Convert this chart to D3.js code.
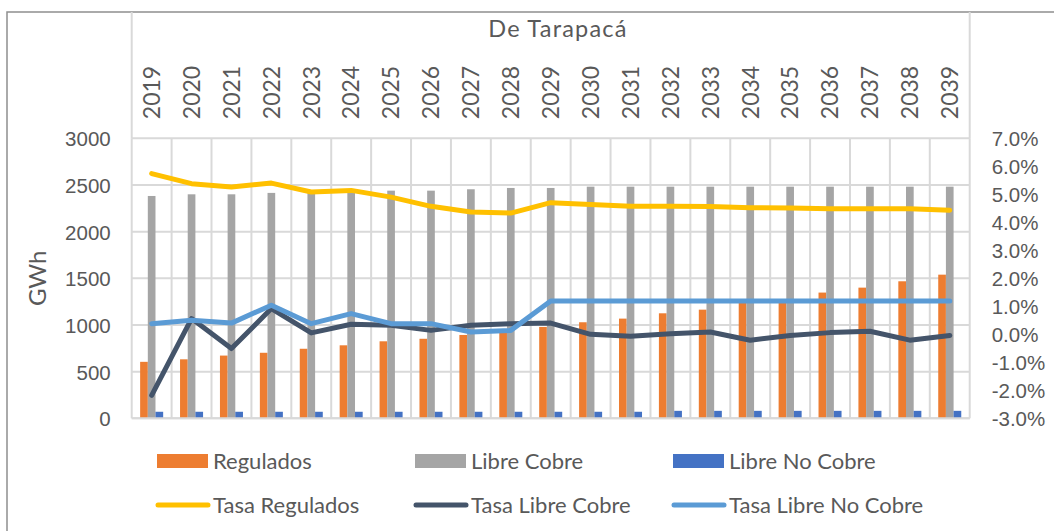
<!DOCTYPE html>
<html>
<head>
<meta charset="utf-8">
<script src="https://cdn.jsdelivr.net/npm/d3@7"></script>
<style>
	body { margin: 0; background: #fff; }
	svg { display: block; font-family: Lato, 'Open Sans', sans-serif; }
	.tick text, .lbl { fill: #595959; }
</style>
</head>
<body>
<div id="chart"></div>
<script>
// data ///////////////////////////////////////////////////////////////////
var years = ['2019', '2020', '2021', '2022', '2023', '2024', '2025', '2026', '2027', '2028', '2029',
	'2030', '2031', '2032', '2033', '2034', '2035', '2036', '2037', '2038', '2039'];
var regulados = [605, 632, 672, 702, 745, 782, 825, 852, 893, 921, 979,
	1029, 1068, 1125, 1164, 1240, 1252, 1347, 1400, 1468, 1539];
var libreCobre = [2382, 2400, 2400, 2415, 2420, 2428, 2439, 2439, 2454, 2468, 2468,
	2482, 2482, 2482, 2482, 2482, 2482, 2482, 2482, 2482, 2482];
var libreNoCobre = [70, 70, 70, 70, 70, 70, 70, 70, 70, 70, 70,
	70, 70, 80, 80, 80, 80, 80, 80, 80, 80];
// growth rates in %
var tasaRegulados = [5.74, 5.38, 5.26, 5.40, 5.08, 5.14, 4.90, 4.57, 4.37, 4.33, 4.70,
	4.64, 4.57, 4.57, 4.56, 4.52, 4.51, 4.48, 4.48, 4.48, 4.43];
var tasaLibreCobre = [-2.18, 0.56, -0.51, 0.92, 0.05, 0.36, 0.32, 0.14, 0.32, 0.38, 0.40,
	0.00, -0.07, 0.02, 0.08, -0.21, -0.04, 0.06, 0.11, -0.21, -0.04];
var tasaLibreNoCobre = [0.38, 0.50, 0.40, 1.04, 0.38, 0.74, 0.38, 0.38, 0.08, 0.14, 1.19,
	1.19, 1.19, 1.19, 1.19, 1.19, 1.19, 1.19, 1.19, 1.19, 1.19];
var leftTicks = [0, 500, 1000, 1500, 2000, 2500, 3000];
var rightTicks = [-3, -2, -1, 0, 1, 2, 3, 4, 5, 6, 7];
var groupTitle = 'De Tarapacá';

var barSeries = [
	{name: 'Regulados', values: regulados, color: '#ED7D31'},
	{name: 'Libre Cobre', values: libreCobre, color: '#A5A5A5'},
	{name: 'Libre No Cobre', values: libreNoCobre, color: '#4472C4'}
];
var lineSeries = [
	{name: 'Tasa Regulados', values: tasaRegulados, color: '#FFC000'},
	{name: 'Tasa Libre Cobre', values: tasaLibreCobre, color: '#44546A'},
	{name: 'Tasa Libre No Cobre', values: tasaLibreNoCobre, color: '#5B9BD5'}
];

// layout /////////////////////////////////////////////////////////////////
var W = 1054, H = 531;
var plot = {left: 131.7, right: 969.7, top: 138.3, bottom: 418.3};
var gridColor = '#d9d9d9';

var svg = d3.select('#chart').append('svg')
	.attr('width', W)
	.attr('height', H);

// outer frame
svg.append('rect')
	.attr('x', 7).attr('y', 12)
	.attr('width', W + 20).attr('height', H + 20)
	.attr('fill', 'none')
	.attr('stroke', '#8f8f8f')
	.attr('stroke-width', 1.5);

var x = d3.scaleBand()
	.domain(years)
	.range([plot.left, plot.right])
	.paddingInner(0).paddingOuter(0);
var xs = d3.scaleBand()
	.domain(barSeries.map(function(d) { return d.name; }))
	.range([0, x.bandwidth()])
	.paddingInner(0).paddingOuter(1.1);
var yL = d3.scaleLinear().domain([0, 3000]).range([plot.bottom, plot.top]);
var yR = d3.scaleLinear().domain([-3, 7]).range([plot.bottom, plot.top]);

// gridlines
var grid = svg.append('g').attr('class', 'grid');
grid.selectAll('.hgrid')
	.data(leftTicks)
	.enter().append('line')
	.attr('x1', plot.left).attr('x2', plot.right)
	.attr('y1', function(d) { return yL(d); })
	.attr('y2', function(d) { return yL(d); })
	.attr('stroke', gridColor)
	.attr('stroke-width', 2);
grid.selectAll('.vgrid')
	.data(years.concat(['end']))
	.enter().append('line')
	.attr('x1', function(d, i) { return plot.left + i * x.step(); })
	.attr('x2', function(d, i) { return plot.left + i * x.step(); })
	.attr('y1', plot.top).attr('y2', plot.bottom)
	.attr('stroke', gridColor)
	.attr('stroke-width', 2);

// header box lines for the group label
grid.selectAll('.hdr')
	.data([plot.left, plot.right])
	.enter().append('line')
	.attr('x1', function(d) { return d; })
	.attr('x2', function(d) { return d; })
	.attr('y1', 12).attr('y2', plot.top)
	.attr('stroke', gridColor)
	.attr('stroke-width', 2);

// bars
var bars = svg.append('g').attr('class', 'bars');
barSeries.forEach(function(s) {
	bars.selectAll('.bar-' + s.name.replace(/ /g, ''))
		.data(s.values)
		.enter().append('rect')
		.attr('x', function(d, i) { return x(years[i]) + xs(s.name); })
		.attr('y', function(d) { return yL(d); })
		.attr('width', xs.bandwidth())
		.attr('height', function(d) { return yL(0) - yL(d); })
		.attr('fill', s.color);
});

// lines on secondary axis
var line = d3.line()
	.x(function(d, i) { return x(years[i]) + x.bandwidth() / 2; })
	.y(function(d) { return yR(d); });
var lines = svg.append('g').attr('class', 'lines');
lineSeries.forEach(function(s) {
	lines.append('path')
		.datum(s.values)
		.attr('d', line)
		.attr('fill', 'none')
		.attr('stroke', s.color)
		.attr('stroke-width', 5)
		.attr('stroke-linejoin', 'round')
		.attr('stroke-linecap', 'round');
});

// axes
var axL = svg.append('g')
	.attr('transform', 'translate(' + plot.left + ',0)')
	.call(d3.axisLeft(yL).tickValues(leftTicks).tickSize(0).tickPadding(21)
		.tickFormat(d3.format('d')));
axL.select('.domain').remove();
axL.selectAll('text').attr('font-size', 20.5).attr('dy', '0.36em');

var axR = svg.append('g')
	.attr('transform', 'translate(' + plot.right + ',0)')
	.call(d3.axisRight(yR).tickValues(rightTicks).tickSize(0).tickPadding(22)
		.tickFormat(function(d) { return d.toFixed(1) + '%'; }));
axR.select('.domain').remove();
axR.selectAll('text').attr('font-size', 20.5).attr('dy', '0.36em');

// bottom axis line
svg.append('line')
	.attr('x1', plot.left).attr('x2', plot.right)
	.attr('y1', plot.bottom).attr('y2', plot.bottom)
	.attr('stroke', gridColor)
	.attr('stroke-width', 2);

// year labels at the top, rotated
svg.append('g').selectAll('text')
	.data(years)
	.enter().append('text')
	.attr('class', 'lbl')
	.attr('transform', function(d) {
		return 'translate(' + (x(d) + x.bandwidth() / 2) + ',92.5) rotate(-90)';
	})
	.attr('text-anchor', 'middle')
	.attr('dy', '0.36em')
	.attr('font-size', 23)
	.text(function(d) { return d; });

svg.append('text')
	.attr('class', 'lbl')
	.attr('x', 558).attr('y', 29)
	.attr('dy', '0.36em')
	.attr('text-anchor', 'middle')
	.attr('font-size', 23.5)
	.attr('letter-spacing', 1.2)
	.text(groupTitle);

svg.append('text')
	.attr('class', 'lbl')
	.attr('transform', 'translate(37.5,' + ((plot.top + plot.bottom) / 2) + ') rotate(-90)')
	.attr('text-anchor', 'middle')
	.attr('dy', '0.36em')
	.attr('font-size', 24)
	.text('GWh');

// legend
var legX = [157, 415, 673];
var legend = svg.append('g').attr('class', 'legend');
var leg1 = legend.selectAll('.leg-bar')
	.data(barSeries)
	.enter().append('g')
	.attr('transform', function(d, i) { return 'translate(' + legX[i] + ',461)'; });
leg1.append('rect')
	.attr('x', 0).attr('y', -7)
	.attr('width', 51).attr('height', 14)
	.attr('fill', function(d) { return d.color; });
leg1.append('text')
	.attr('class', 'lbl')
	.attr('x', 56).attr('dy', '0.36em')
	.attr('font-size', 22)
	.text(function(d) { return d.name; });

var leg2 = legend.selectAll('.leg-line')
	.data(lineSeries)
	.enter().append('g')
	.attr('transform', function(d, i) { return 'translate(' + legX[i] + ',505)'; });
leg2.append('line')
	.attr('x1', 1).attr('x2', 51)
	.attr('stroke', function(d) { return d.color; })
	.attr('stroke-width', 5)
	.attr('stroke-linecap', 'round');
leg2.append('text')
	.attr('class', 'lbl')
	.attr('x', 56).attr('dy', '0.36em')
	.attr('font-size', 22)
	.text(function(d) { return d.name; });
</script>
</body>
</html>
